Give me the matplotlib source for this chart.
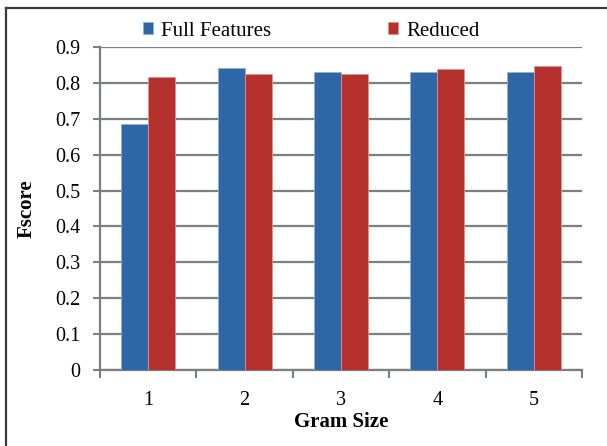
import numpy as np
import matplotlib
matplotlib.use("Agg")
from matplotlib import pyplot as plt
from matplotlib.lines import Line2D

# Fscore per gram size
gram_sizes = ["1", "2", "3", "4", "5"]
full_features = [0.685, 0.842, 0.831, 0.831, 0.831]
reduced = [0.816, 0.825, 0.824, 0.838, 0.846]
y_ticks = [0, 0.1, 0.2, 0.3, 0.4, 0.5, 0.6, 0.7, 0.8, 0.9]

plt.rcParams['font.family'] = ['Liberation Serif', 'DejaVu Serif']
grid_col = '#7a7f83'
fs = 15

fig = plt.figure(figsize=(6.07, 4.46), dpi=100)
ax = fig.add_axes([0.1647, 0.1704, 0.7941, 0.7242])

x = np.arange(1, len(gram_sizes) + 1)
w = 0.28
ax.bar(x - w / 2, full_features, w, color='#2e67a8', edgecolor='#8fb0d8', linewidth=0.6,
       label='Full Features', zorder=3)
ax.bar(x + w / 2, reduced, w, color='#b5312d', edgecolor='#e0908c', linewidth=0.6,
       label='Reduced', zorder=3)

ax.set_xlim(0.5, len(gram_sizes) + 0.5)
ax.set_ylim(0, 0.9)
ax.set_yticks(y_ticks)
ax.set_yticklabels([f"{t:g}" for t in y_ticks])
ax.set_xticks(x)
ax.set_xticklabels(gram_sizes)
ax.set_xticks(np.arange(0.5, len(gram_sizes) + 1), minor=True)
ax.tick_params(axis='x', which='major', length=0, pad=15, labelsize=14.5)
ax.tick_params(axis='x', which='minor', length=6, width=1.5, color=grid_col, direction='out')
ax.tick_params(axis='y', length=5, width=1.5, color=grid_col, labelsize=14.5, pad=9)

ax.yaxis.grid(True, color=grid_col, linewidth=1.6, zorder=0)
ax.set_axisbelow(True)
for side in ['top', 'right']:
    ax.spines[side].set_visible(False)
for side in ['left', 'bottom']:
    ax.spines[side].set_color(grid_col)
    ax.spines[side].set_linewidth(1.6)

ax.set_xlabel('Gram Size', fontsize=fs, fontweight='bold', va='center')
ax.set_ylabel('Fscore', fontsize=fs, fontweight='bold', va='center')
ax.xaxis.set_label_coords(0.5, (370 - 422) / 323)
ax.yaxis.set_label_coords((27 - 100) / 482, 0.5)

ax.legend(loc='center left', bbox_to_anchor=(0.089, (370 - 31) / 323), ncol=2, frameon=False,
          fontsize=fs, handlelength=0.48, handleheight=0.48, handletextpad=0.4,
          columnspacing=5.6, borderaxespad=0, borderpad=0)

# outer frame around the figure
fig.add_artist(Line2D([5.5 / 607, 5.5 / 607], [0, 1 - 8 / 446], color='#3a3a3a',
                      linewidth=1.6, transform=fig.transFigure))
fig.add_artist(Line2D([5.5 / 607, 1], [1 - 8 / 446, 1 - 8 / 446], color='#3a3a3a',
                      linewidth=1.6, transform=fig.transFigure))

fig.savefig('out.png', dpi=100)
